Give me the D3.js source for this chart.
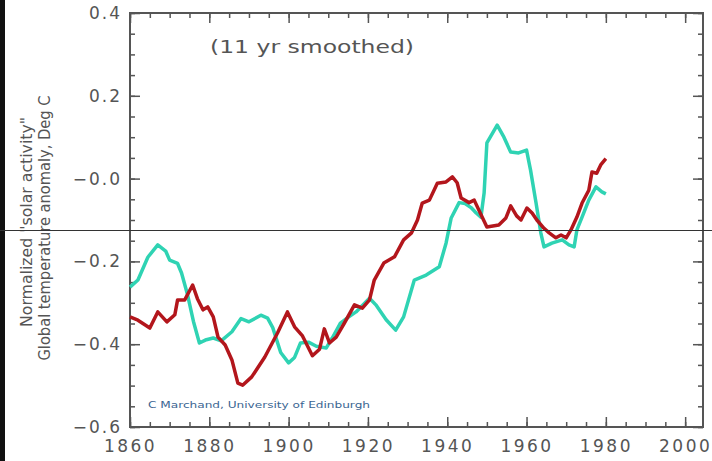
<!DOCTYPE html>
<html>
<head>
<meta charset="utf-8">
<script src="https://cdn.jsdelivr.net/npm/d3@7"></script>
<style>
  body { margin: 0; background: #fff; }
  svg { display: block; }
  .tick text { font-family: "DejaVu Sans", sans-serif; fill: #555; }
</style>
</head>
<body>
<svg width="712" height="461"></svg>
<script>
// solar activity (teal)
var solarYears = [1860, 1862, 1864.5, 1867, 1869, 1870, 1872, 1873, 1874.5, 1876, 1877.5, 1879, 1881, 1883, 1885.7, 1888, 1890, 1893, 1894.7, 1896, 1898, 1900, 1901.5, 1903, 1905, 1907, 1909.5, 1911, 1913, 1915, 1917, 1920.4, 1922, 1924.6, 1927, 1929, 1931.7, 1934.7, 1938, 1939.7, 1941, 1943, 1944.5, 1946, 1947.3, 1948.5, 1949.3, 1950, 1952.6, 1954.3, 1956, 1958, 1960, 1961, 1962.4, 1963.6, 1964.4, 1966.4, 1969, 1970.7, 1972, 1972.7, 1974, 1975.7, 1977.5, 1979, 1980];
var solarValues = [-0.262, -0.245, -0.19, -0.16, -0.175, -0.197, -0.205, -0.228, -0.28, -0.345, -0.397, -0.39, -0.385, -0.392, -0.37, -0.338, -0.346, -0.33, -0.337, -0.36, -0.42, -0.445, -0.432, -0.397, -0.395, -0.405, -0.409, -0.385, -0.35, -0.335, -0.322, -0.289, -0.305, -0.341, -0.366, -0.334, -0.245, -0.233, -0.213, -0.156, -0.095, -0.058, -0.06, -0.07, -0.083, -0.093, -0.035, 0.086, 0.129, 0.1, 0.064, 0.062, 0.069, 0.021, -0.059, -0.131, -0.165, -0.156, -0.148, -0.16, -0.165, -0.124, -0.093, -0.052, -0.02, -0.032, -0.037];

// global temperature anomaly (red)
var tempYears = [1860, 1862, 1865, 1867, 1869.3, 1871.3, 1872, 1873.8, 1875.8, 1877, 1878.4, 1879.6, 1881, 1882.2, 1884, 1885.7, 1887.2, 1888.4, 1890.7, 1894, 1897.2, 1899.7, 1901.5, 1903.5, 1906, 1907.8, 1909, 1910.3, 1912, 1914, 1916.6, 1918.6, 1920.4, 1921.6, 1924, 1926.7, 1929, 1931, 1932.5, 1933.7, 1935.5, 1937.5, 1939.7, 1941.3, 1942.5, 1943.5, 1945.5, 1946.8, 1948.8, 1950, 1953, 1954.8, 1956, 1957.5, 1958.6, 1960.1, 1961.4, 1962.6, 1964.4, 1965.7, 1967.4, 1968.7, 1970, 1971.2, 1972.7, 1974, 1975.7, 1976.5, 1977.7, 1978.7, 1980];
var tempValues = [-0.334, -0.342, -0.361, -0.322, -0.346, -0.329, -0.293, -0.293, -0.257, -0.29, -0.317, -0.31, -0.334, -0.383, -0.402, -0.438, -0.494, -0.499, -0.479, -0.431, -0.373, -0.322, -0.358, -0.38, -0.428, -0.412, -0.363, -0.397, -0.383, -0.35, -0.305, -0.313, -0.293, -0.245, -0.204, -0.189, -0.148, -0.131, -0.1, -0.059, -0.052, -0.011, -0.008, 0.004, -0.01, -0.047, -0.058, -0.052, -0.093, -0.117, -0.112, -0.095, -0.066, -0.09, -0.1, -0.071, -0.083, -0.1, -0.12, -0.131, -0.143, -0.136, -0.143, -0.124, -0.093, -0.059, -0.028, 0.016, 0.013, 0.033, 0.048];

var xTicks = [1860, 1880, 1900, 1920, 1940, 1960, 1980, 2000];
var yTicks = [-0.6, -0.4, -0.2, 0, 0.2, 0.4];

const svg = d3.select('svg');
const plotL = 130, plotR = 703, plotT = 13, plotB = 427;

var x = d3.scaleLinear().domain([1860, 2004.5]).range([plotL, plotR]);
var y = d3.scaleLinear().domain([-0.6, 0.4]).range([plotB, plotT]);

// left black strip of the scan
svg.append('rect').attr('x', 0).attr('y', 0).attr('width', 5).attr('height', 461).attr('fill', '#111');

var fmtY = d => d === 0 ? '\u22120.0' : (d < 0 ? '\u2212' + Math.abs(d).toFixed(1) : d.toFixed(1));
var xMinor = d3.range(1860, 2005, 5);
var yMinor = d3.range(-0.6, 0.401, 0.05);

function styleAxis(g) {
  g.selectAll('.domain').remove();
  g.selectAll('line').attr('stroke', '#555').attr('stroke-width', 1.5);
}

// bottom
svg.append('g').attr('transform', `translate(0,${plotB})`)
  .call(d3.axisBottom(x).tickValues(xMinor).tickSize(-5).tickFormat(''))
  .call(styleAxis);
svg.append('g').attr('transform', `translate(0,${plotB})`)
  .call(d3.axisBottom(x).tickValues(xTicks).tickSize(-10).tickPadding(25).tickFormat(d3.format('d')))
  .call(styleAxis)
  .selectAll('text').attr('font-size', 17).attr('letter-spacing', 2.5).attr('dy', 0);
// top
svg.append('g').attr('transform', `translate(0,${plotT})`)
  .call(d3.axisTop(x).tickValues(xMinor).tickSize(-5).tickFormat(''))
  .call(styleAxis);
svg.append('g').attr('transform', `translate(0,${plotT})`)
  .call(d3.axisTop(x).tickValues(xTicks).tickSize(-10).tickFormat(''))
  .call(styleAxis);
// left
svg.append('g').attr('transform', `translate(${plotL},0)`)
  .call(d3.axisLeft(y).tickValues(yMinor).tickSize(-5).tickFormat(''))
  .call(styleAxis);
svg.append('g').attr('transform', `translate(${plotL},0)`)
  .call(d3.axisLeft(y).tickValues(yTicks).tickSize(-10).tickPadding(8).tickFormat(fmtY))
  .call(styleAxis)
  .selectAll('text').attr('font-size', 17).attr('letter-spacing', 2);
// right
svg.append('g').attr('transform', `translate(${plotR},0)`)
  .call(d3.axisRight(y).tickValues(yMinor).tickSize(-5).tickFormat(''))
  .call(styleAxis);
svg.append('g').attr('transform', `translate(${plotR},0)`)
  .call(d3.axisRight(y).tickValues(yTicks).tickSize(-10).tickFormat(''))
  .call(styleAxis);

// frame
svg.append('path')
  .attr('d', `M${plotL},${plotT}H${plotR}V${plotB}H${plotL}Z`)
  .attr('fill', 'none').attr('stroke', '#555').attr('stroke-width', 2);

var line = d3.line().x(d => x(d[0])).y(d => y(d[1]));

svg.append('path')
  .datum(d3.zip(solarYears, solarValues))
  .attr('d', line).attr('fill', 'none')
  .attr('stroke', '#2fd3b3').attr('stroke-width', 3.5).attr('stroke-linejoin', 'round');
svg.append('path')
  .datum(d3.zip(tempYears, tempValues))
  .attr('d', line).attr('fill', 'none')
  .attr('stroke', '#b3161c').attr('stroke-width', 3.5).attr('stroke-linejoin', 'round');

// texts
svg.append('text').attr('x', 312).attr('y', 53).attr('text-anchor', 'middle')
  .attr('font-family', 'DejaVu Sans, sans-serif').attr('font-size', 17)
  .attr('textLength', 204).attr('lengthAdjust', 'spacingAndGlyphs')
  .attr('fill', '#555').text('(11 yr smoothed)');

svg.append('text').attr('transform', 'translate(32,222) rotate(-90)').attr('text-anchor', 'middle')
  .attr('font-family', 'DejaVu Sans, sans-serif').attr('font-size', 15).attr('fill', '#555')
  .attr('textLength', 210).attr('lengthAdjust', 'spacingAndGlyphs')
  .text('Normalized "solar activity"');
svg.append('text').attr('transform', 'translate(50,228) rotate(-90)').attr('text-anchor', 'middle')
  .attr('font-family', 'DejaVu Sans, sans-serif').attr('font-size', 15).attr('fill', '#555')
  .attr('textLength', 265).attr('lengthAdjust', 'spacingAndGlyphs')
  .text('Global temperature anomaly, Deg C');

svg.append('text').attr('x', 148).attr('y', 408)
  .attr('font-family', 'DejaVu Sans, sans-serif').attr('font-size', 9).attr('fill', '#3a6592')
  .attr('textLength', 222).attr('lengthAdjust', 'spacingAndGlyphs')
  .text('C Marchand, University of Edinburgh');

// thin rule across the scan
svg.append('line').attr('x1', 0).attr('x2', 712).attr('y1', 230.5).attr('y2', 230.5)
  .attr('stroke', '#333').attr('stroke-width', 1);
</script>
</body>
</html>
